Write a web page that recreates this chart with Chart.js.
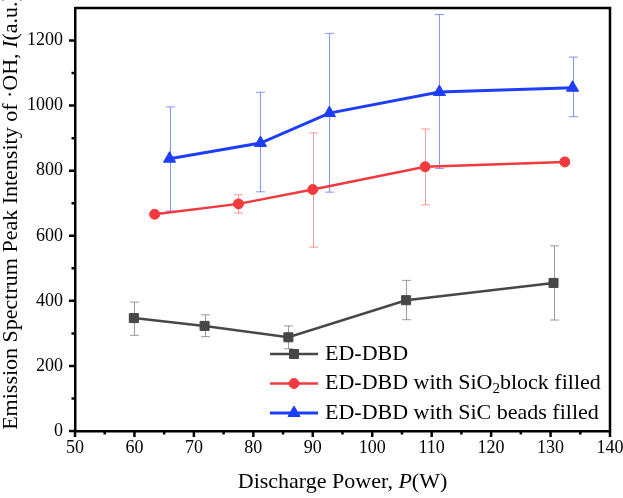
<!DOCTYPE html>
<html><head><meta charset="utf-8">
<script src="https://cdn.jsdelivr.net/npm/chart.js@4/dist/chart.umd.min.js"></script>
<style>html,body{margin:0;padding:0;background:#fff}canvas{display:block}</style>
</head><body>
<canvas id="c" width="623" height="498"></canvas>
<script>
// ---- data ----
const seriesLabels = ['ED-DBD', 'ED-DBD with SiO\u2082block filled', 'ED-DBD with SiC beads filled'];
const powerEDDBD     = [59.9, 71.8, 85.9, 105.7, 130.5];
const intensityEDDBD = [347, 323, 288, 402, 455];
const errHighEDDBD   = [396, 357, 323, 463, 569];
const errLowEDDBD    = [294, 290, 253, 342, 341];

const powerSiO2      = [63.4, 77.5, 90.0, 108.9, 132.4];
const intensitySiO2  = [666, 698, 742, 812, 827];
const errHighSiO2    = [666, 726, 916, 928, 827];
const errLowSiO2     = [666, 670, 565, 695, 827];

const powerSiC       = [65.9, 81.2, 92.8, 111.3, 133.7];
const intensitySiC   = [837, 885, 977, 1042, 1055];
const errHighSiC     = [996, 1041, 1222, 1280, 1149];
const errLowSiC      = [676, 735, 734, 807, 966];

const xTickVals = [50, 60, 70, 80, 90, 100, 110, 120, 130, 140];
const xMinorVals = [55, 65, 75, 85, 95, 105, 115, 125, 135];
const yTickVals = [0, 200, 400, 600, 800, 1000, 1200];
const yMinorVals = [100, 300, 500, 700, 900, 1100];

const xTitleParts = [['Discharge Power, ', false], ['P', true], ['(W)', false]];
const yTitleParts = [['Emission Spectrum Peak Intensity of \u00B7OH, ', false], ['I', true], ['(a.u.)', false]];

// ---- styling ----
const FONT = "'Liberation Serif','Times New Roman',serif";
const pts = (xs, ys) => xs.map((x, i) => ({x: x, y: ys[i]}));

const errorBarPlugin = {
  id: 'errorBars',
  beforeDatasetsDraw(chart) {
    const ctx = chart.ctx, xs = chart.scales.x, ys = chart.scales.y;
    chart.data.datasets.forEach(ds => {
      ctx.save();
      ctx.strokeStyle = ds.errColor;
      ctx.lineWidth = 1;
      ds.data.forEach((p, i) => {
        const hi = ds.errHigh[i], lo = ds.errLow[i];
        if (hi === lo) return;
        const px = Math.round(xs.getPixelForValue(p.x)) + 0.5;
        const yh = ys.getPixelForValue(hi), yl = ys.getPixelForValue(lo);
        ctx.beginPath();
        ctx.moveTo(px, yh); ctx.lineTo(px, yl);
        ctx.moveTo(px - 4.5, yh); ctx.lineTo(px + 4.5, yh);
        ctx.moveTo(px - 4.5, yl); ctx.lineTo(px + 4.5, yl);
        ctx.stroke();
      });
      ctx.restore();
    });
  }
};

function drawParts(ctx, parts, size, startX, y) {
  let x = startX;
  parts.forEach(([t, it]) => {
    ctx.font = (it ? 'italic ' : '') + size + 'px ' + FONT;
    ctx.fillText(t, x, y);
    x += ctx.measureText(t).width;
  });
}
function partsWidth(ctx, parts, size) {
  let w = 0;
  parts.forEach(([t, it]) => {
    ctx.font = (it ? 'italic ' : '') + size + 'px ' + FONT;
    w += ctx.measureText(t).width;
  });
  return w;
}

const framePlugin = {
  id: 'frame',
  afterDraw(chart) {
    const ctx = chart.ctx, a = chart.chartArea, xs = chart.scales.x, ys = chart.scales.y;
    ctx.save();
    ctx.strokeStyle = '#000';
    ctx.lineWidth = 2.5;
    ctx.beginPath();
    ctx.moveTo(a.left, a.top); ctx.lineTo(a.right, a.top); ctx.lineTo(a.right, a.bottom);
    ctx.stroke();
    // ticks
    ctx.beginPath();
    xTickVals.forEach(v => { const p = xs.getPixelForValue(v); ctx.moveTo(p, a.bottom); ctx.lineTo(p, a.bottom + 6); });
    xMinorVals.forEach(v => { const p = xs.getPixelForValue(v); ctx.moveTo(p, a.bottom); ctx.lineTo(p, a.bottom + 3.5); });
    yTickVals.forEach(v => { const p = ys.getPixelForValue(v); ctx.moveTo(a.left, p); ctx.lineTo(a.left - 6, p); });
    yMinorVals.forEach(v => { const p = ys.getPixelForValue(v); ctx.moveTo(a.left, p); ctx.lineTo(a.left - 3.5, p); });
    ctx.stroke();

    // axis titles
    ctx.fillStyle = '#000';
    ctx.textBaseline = 'alphabetic';
    ctx.textAlign = 'left';
    const xw = partsWidth(ctx, xTitleParts, 22);
    drawParts(ctx, xTitleParts, 22, (a.left + a.right) / 2 - xw / 2, 488);
    ctx.save();
    ctx.translate(17, 212);
    ctx.rotate(-Math.PI / 2);
    const yw = partsWidth(ctx, yTitleParts, 22);
    drawParts(ctx, yTitleParts, 22, -yw / 2, 0);
    ctx.restore();

    // legend
    const rows = [354, 383.5, 413];
    chart.data.datasets.forEach((ds, i) => {
      const y = rows[i];
      ctx.strokeStyle = ds.borderColor;
      ctx.lineWidth = ds.borderWidth;
      ctx.beginPath(); ctx.moveTo(270, y); ctx.lineTo(318, y); ctx.stroke();
      ctx.fillStyle = ds.backgroundColor;
      ctx.lineWidth = 1;
      Chart.helpers.drawPoint(ctx, {pointStyle: ds.pointStyle, radius: ds.pointRadius, borderWidth: 1, rotation: 0}, 294, y);
      ctx.fillStyle = '#000';
      ctx.textBaseline = 'middle';
      ctx.font = '22px ' + FONT;
      const segs = ds.label.split('\u2082');
      let x = 325;
      ctx.fillText(segs[0], x, y);
      x += ctx.measureText(segs[0]).width;
      if (segs.length > 1) {
        ctx.font = '15px ' + FONT;
        ctx.fillText('2', x, y + 6);
        x += ctx.measureText('2').width;
        ctx.font = '22px ' + FONT;
        ctx.fillText(segs[1], x, y);
      }
    });
    ctx.restore();
  }
};

new Chart(document.getElementById('c'), {
  type: 'line',
  data: {
    datasets: [
      {label: seriesLabels[0], data: pts(powerEDDBD, intensityEDDBD), errHigh: errHighEDDBD, errLow: errLowEDDBD,
       borderColor: '#474747', backgroundColor: '#474747', pointBackgroundColor: '#474747', pointBorderColor: '#474747',
       pointStyle: 'rect', pointRadius: 6.4, pointBorderWidth: 1, borderWidth: 2.5, errColor: 'rgba(120,120,120,0.75)'},
      {label: seriesLabels[1], data: pts(powerSiO2, intensitySiO2), errHigh: errHighSiO2, errLow: errLowSiO2,
       borderColor: '#f03a3d', backgroundColor: '#f03a3d', pointBackgroundColor: '#f03a3d', pointBorderColor: '#f03a3d',
       pointStyle: 'circle', pointRadius: 5, pointBorderWidth: 1, borderWidth: 2.5, errColor: 'rgba(245,120,120,0.75)'},
      {label: seriesLabels[2], data: pts(powerSiC, intensitySiC), errHigh: errHighSiC, errLow: errLowSiC,
       borderColor: '#1d3ef6', backgroundColor: '#1d3ef6', pointBackgroundColor: '#1d3ef6', pointBorderColor: '#1d3ef6',
       pointStyle: 'triangle', pointRadius: 7, pointBorderWidth: 1, borderWidth: 3, errColor: 'rgba(90,115,250,0.75)'}
    ]
  },
  options: {
    responsive: false,
    animation: false,
    layout: {padding: {top: 3, right: 13, left: 0, bottom: 0}},
    plugins: {legend: {display: false}, tooltip: {enabled: false}},
    elements: {line: {tension: 0}},
    scales: {
      x: {
        type: 'linear', min: 50, max: 140,
        afterBuildTicks: s => { s.ticks = xTickVals.map(v => ({value: v})); },
        afterFit: s => { s.height = 67; s.paddingRight = 0; s.paddingLeft = 0; },
        grid: {display: false, drawTicks: false},
        border: {display: true, color: '#000', width: 2.5},
        ticks: {font: {family: FONT, size: 18}, color: '#000', padding: 6, maxRotation: 0, callback: v => String(v)}
      },
      y: {
        type: 'linear', min: 0, max: 1300,
        afterBuildTicks: s => { s.ticks = yTickVals.map(v => ({value: v})); },
        afterFit: s => { s.width = 75; s.paddingTop = 0; s.paddingBottom = 0; },
        grid: {display: false, drawTicks: false},
        border: {display: true, color: '#000', width: 2.5},
        ticks: {font: {family: FONT, size: 18}, color: '#000', padding: 12, callback: v => String(v)}
      }
    }
  },
  plugins: [errorBarPlugin, framePlugin]
});
</script>
</body></html>
